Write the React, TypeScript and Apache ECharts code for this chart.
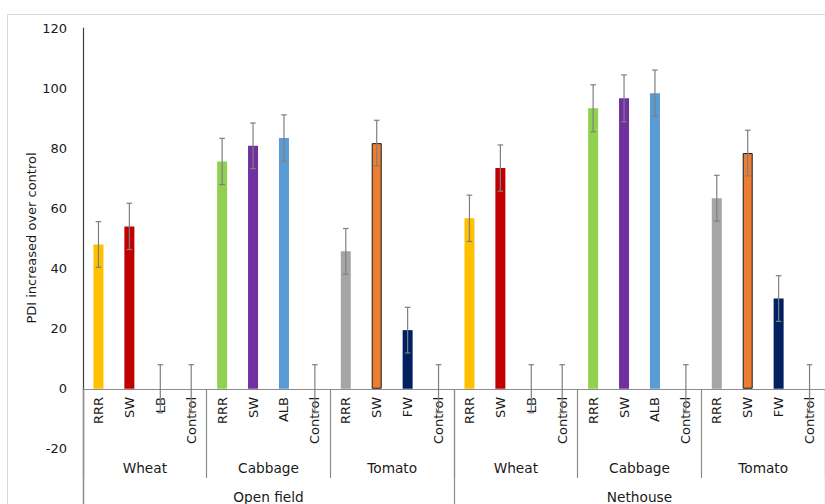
import React, { useEffect, useRef } from "react";
import * as echarts from "echarts";

const treatments = [
  "RRR", "SW", "LB", "Control",
  "RRR", "SW", "ALB", "Control",
  "RRR", "SW", "FW", "Control",
  "RRR", "SW", "LB", "Control",
  "RRR", "SW", "ALB", "Control",
  "RRR", "SW", "FW", "Control",
];
const crops = ["Wheat", "Cabbage", "Tomato", "Wheat", "Cabbage", "Tomato"];
const fields = ["Open field", "Nethouse"];

const pdiValues = [
  48, 54, 0, 0,
  75.6, 80.8, 83.4, 0,
  45.7, 81.7, 19.5, 0,
  56.7, 73.4, 0, 0,
  93.3, 96.6, 98.3, 0,
  63.4, 78.4, 30, 0,
];
const pdiErrors = [
  7.6, 7.7, 8, 8,
  7.7, 7.6, 7.7, 8,
  7.6, 7.6, 7.6, 8,
  7.7, 7.7, 8, 8,
  7.8, 7.8, 7.7, 8,
  7.6, 7.6, 7.6, 8,
];
const barColors = [
  "#FFC000", "#C00000", "#FFFFFF", "#FFFFFF",
  "#92D050", "#7030A0", "#5B9BD5", "#FFFFFF",
  "#A5A5A5", "#ED7D31", "#002060", "#FFFFFF",
  "#FFC000", "#C00000", "#FFFFFF", "#FFFFFF",
  "#92D050", "#7030A0", "#5B9BD5", "#FFFFFF",
  "#A5A5A5", "#ED7D31", "#002060", "#FFFFFF",
];
const yTicks = [-40, -20, 0, 20, 40, 60, 80, 100, 120];

const FONT = "DejaVu Sans";

export default function App() {
  const ref = useRef<HTMLDivElement>(null);
  useEffect(() => {
    document.body.style.margin = "0";
    document.body.style.overflow = "hidden";
    const chart = echarts.init(ref.current!, null, { renderer: "svg" });
    const barData = pdiValues.map((v, i) => ({
      value: v,
      itemStyle: {
        color: barColors[i],
        borderColor: barColors[i] === "#ED7D31" ? "#1a1a1a" : barColors[i],
        borderWidth: barColors[i] === "#ED7D31" ? 1 : 0,
      },
    }));
    const errData = pdiValues.map((v, i) => [i, v, pdiErrors[i]]);
    const option: any = {
      animation: false,
      backgroundColor: "#ffffff",
      graphic: [
        {
          type: "rect",
          shape: { x: 7.5, y: 14.5, width: 840, height: 540 },
          style: { fill: "none", stroke: "#d9d9d9", lineWidth: 1 },
          silent: true,
          z: -1,
        },
        {
          type: "text",
          x: 31,
          y: 238,
          rotation: Math.PI / 2,
          style: {
            text: "PDI increased over control",
            fill: "#1a1a1a",
            font: `13px "${FONT}"`,
            textAlign: "center",
            textVerticalAlign: "middle",
          },
        },
      ],
      grid: { left: 83, top: 28, width: 744, height: 481 },
      yAxis: {
        type: "value",
        min: yTicks[0],
        max: yTicks[yTicks.length - 1],
        interval: 20,
        axisLine: { show: true, lineStyle: { color: "#404040", width: 1.2 } },
        axisTick: { show: false },
        splitLine: { show: false },
        axisLabel: {
          margin: 16,
          color: "#1a1a1a",
          fontFamily: FONT,
          fontSize: 13,
          formatter: (v: number) => (v <= -40 ? "" : String(v)),
        },
      },
      xAxis: [
        {
          type: "category",
          data: treatments,
          position: "bottom",
          offset: -120,
          axisLine: { onZero: false, show: true, lineStyle: { color: "#8c8c8c", width: 1.2 } },
          axisTick: { show: false },
          axisLabel: {
            interval: 0,
            rotate: 90,
            margin: 8,
            color: "#1a1a1a",
            fontFamily: FONT,
            fontSize: 13,
          },
        },
        {
          type: "category",
          data: crops,
          position: "bottom",
          offset: -120,
          axisLine: { onZero: false, show: false },
          axisTick: { show: true, length: 89, lineStyle: { color: "#8c8c8c", width: 1.2 } },
          axisLabel: {
            interval: 0,
            margin: 72,
            color: "#1a1a1a",
            fontFamily: FONT,
            fontSize: 13.7,
          },
        },
        {
          type: "category",
          data: fields,
          position: "bottom",
          offset: -120,
          axisLine: { onZero: false, show: false },
          axisTick: { show: true, length: 140, lineStyle: { color: "#8c8c8c", width: 1.2 } },
          axisLabel: {
            interval: 0,
            margin: 101,
            color: "#1a1a1a",
            fontFamily: FONT,
            fontSize: 13.7,
          },
        },
      ],
      series: [
        {
          type: "bar",
          xAxisIndex: 0,
          barWidth: 10,
          data: barData,
          z: 2,
        },
        {
          type: "custom",
          xAxisIndex: 0,
          z: 3,
          clip: false,
          data: errData,
          renderItem: (params: any, api: any) => {
            const x = api.value(0);
            const v = api.value(1);
            const e = api.value(2);
            const top = api.coord([x, v + e]);
            const bot = api.coord([x, v - e]);
            const cap = 2.8;
            const st = { stroke: "#7f7f7f", lineWidth: 1.2 };
            return {
              type: "group",
              children: [
                { type: "line", shape: { x1: top[0], y1: top[1], x2: bot[0], y2: bot[1] }, style: st },
                { type: "line", shape: { x1: top[0] - cap, y1: top[1], x2: top[0] + cap, y2: top[1] }, style: st },
                { type: "line", shape: { x1: bot[0] - cap, y1: bot[1], x2: bot[0] + cap, y2: bot[1] }, style: st },
              ],
            };
          },
        },
      ],
    };
    chart.setOption(option);
    return () => chart.dispose();
  }, []);
  return <div ref={ref} style={{ width: 825, height: 530 }} />;
}
